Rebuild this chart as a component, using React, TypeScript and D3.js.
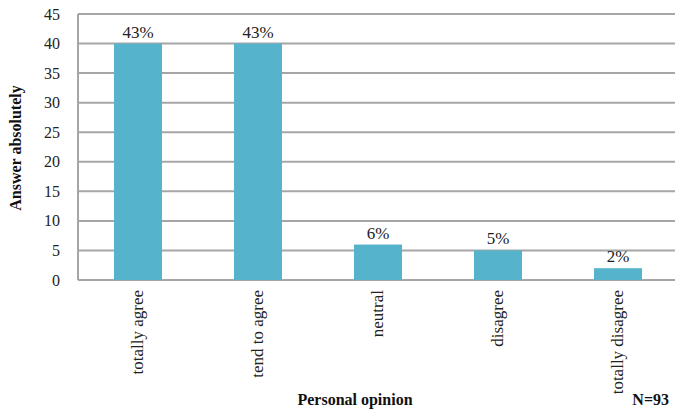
import React from "react";
import * as d3 from "d3";

const categories = ["totally agree", "tend to agree", "neutral", "disagree", "totally disagree"];
const answers = [40, 40, 6, 5, 2];
const percentLabels = ["43%", "43%", "6%", "5%", "2%"];
const yTicks = [0, 5, 10, 15, 20, 25, 30, 35, 40, 45];

const W = 675;
const H = 414;
const left = 78;
const right = 678;
const top = 14;
const bottom = 280;
const fontStyle = { fontFamily: "Liberation Serif" };

export default function App() {
  const x = d3
    .scaleBand<string>()
    .domain(categories)
    .range([left, right])
    .paddingInner(0.6)
    .paddingOuter(0.3);
  const y = d3.scaleLinear().domain([0, 45]).range([bottom, top]);

  return (
    <svg
      width={W}
      height={H}
      style={{ position: "absolute", left: 0, top: 0, background: "#fff" }}
    >
      <style>{`text { font-family: "Liberation Serif" !important; }`}</style>
      {/* gridlines */}
      {yTicks.map((t) => (
        <line
          key={t}
          x1={left}
          x2={W}
          y1={y(t)}
          y2={y(t)}
          stroke="#a6a6a6"
          strokeWidth={2}
        />
      ))}
      <line x1={left} x2={left} y1={top} y2={bottom} stroke="#a6a6a6" strokeWidth={2} />

      {/* tick labels */}
      {yTicks.map((t) => (
        <text
          key={t}
          x={left - 18}
          y={y(t)}
          dy="0.35em"
          textAnchor="end"
          fontSize={16}
          fill="#222"
          style={fontStyle}
        >
          {t}
        </text>
      ))}

      {/* bars */}
      {categories.map((c, i) => (
        <g key={c}>
          <rect
            x={x(c)}
            y={y(answers[i])}
            width={x.bandwidth()}
            height={bottom - y(answers[i])}
            fill="#56b3cc"
          />
          <text
            x={(x(c) as number) + x.bandwidth() / 2}
            y={y(answers[i]) - 6}
            textAnchor="middle"
            fontSize={17}
            fill="#222"
            style={fontStyle}
          >
            {percentLabels[i]}
          </text>
          <text
            transform={`translate(${(x(c) as number) + x.bandwidth() / 2 + 5},290) rotate(-90)`}
            textAnchor="end"
            fontSize={17}
            fill="#222"
            style={fontStyle}
          >
            {c}
          </text>
        </g>
      ))}

      {/* axis titles */}
      <text
        transform="translate(21,148) rotate(-90)"
        textAnchor="middle"
        fontSize={16}
        fontWeight="bold"
        fill="#111"
        style={fontStyle}
      >
        Answer absolutely
      </text>
      <text x={355} y={405} textAnchor="middle" fontSize={16} fontWeight="bold" fill="#111" style={fontStyle}>
        Personal opinion
      </text>
      <text x={669} y={405} textAnchor="end" fontSize={16} fontWeight="bold" fill="#111" style={fontStyle}>
        N=93
      </text>
    </svg>
  );
}
